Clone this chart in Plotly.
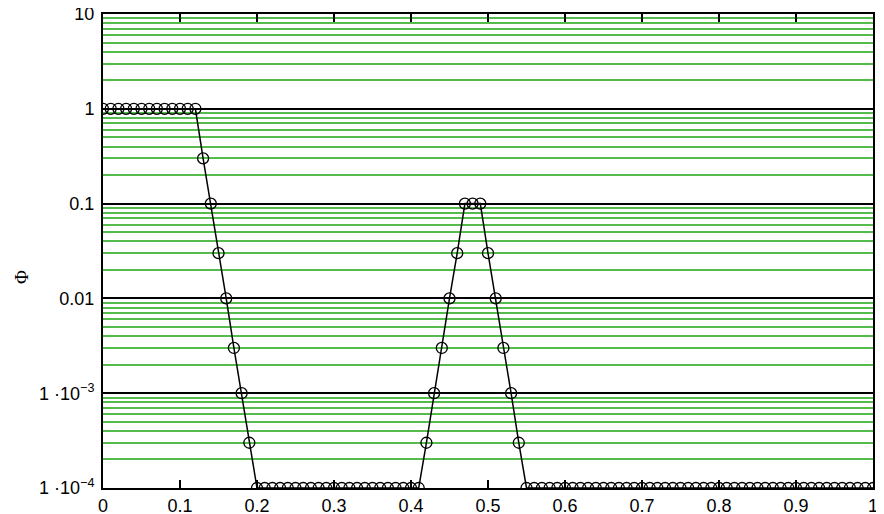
import plotly.graph_objects as go

x_vals = [round(i * 0.01, 2) for i in range(101)]

# Phi values (1e-4 is the bottom of the axis)
phi_head = [1] * 13 + [0.3, 0.1, 0.03, 0.01, 0.003, 0.001, 3e-4]          # x = 0.00 .. 0.19
phi_flat1 = [1e-4] * 22                                                    # x = 0.20 .. 0.41
phi_peak = [3e-4, 0.001, 0.003, 0.01, 0.03, 0.1, 0.1, 0.1,
            0.03, 0.01, 0.003, 0.001, 3e-4]                                # x = 0.42 .. 0.54
phi_tail = [1e-4] * 46                                                     # x = 0.55 .. 1.00
phi_vals = phi_head + phi_flat1 + phi_peak + phi_tail

y_tickvals = [1e-4, 1e-3, 0.01, 0.1, 1, 10]
y_ticktext = ["1 \u00b710<sup>\u22124</sup>", "1 \u00b710<sup>\u22123</sup>", "0.01", "0.1", "1", "10"]
x_tickvals = [0, 0.1, 0.2, 0.3, 0.4, 0.5, 0.6, 0.7, 0.8, 0.9, 1]
x_ticktext = ["0", "0.1", "0.2", "0.3", "0.4", "0.5", "0.6", "0.7", "0.8", "0.9", "1"]
y_title = "\u03a6"

fig = go.Figure()
fig.add_trace(go.Scatter(
    x=x_vals, y=phi_vals, mode="lines+markers",
    line=dict(color="black", width=1.5),
    marker=dict(symbol="circle-open", size=11, color="black", line=dict(width=1.3)),
    cliponaxis=True, showlegend=False,
))

font = dict(family="Liberation Sans, Arial, sans-serif", size=18, color="black")

# page has an 8px body margin, so the figure is sized/positioned to compensate
fig.update_layout(
    width=876, height=506,
    margin=dict(l=95, r=11, t=6, b=26),
    paper_bgcolor="white", plot_bgcolor="white",
    font=font,
    xaxis=dict(
        range=[0, 1], tickvals=x_tickvals, ticktext=x_ticktext,
        showgrid=False, zeroline=False, automargin=False,
        ticks="inside", ticklen=8, tickwidth=1.5, tickcolor="black",
        showline=True, linecolor="black", linewidth=2, mirror="allticks",
        tickfont=font, ticklabelstandoff=0, ticklabeloverflow="allow",
    ),
    yaxis=dict(
        type="log", range=[-4, 1], tickvals=y_tickvals, ticktext=y_ticktext,
        showgrid=True, gridcolor="black", gridwidth=1.5,
        zeroline=False, ticks="", automargin=False,
        showline=True, linecolor="black", linewidth=2, mirror=True,
        minor=dict(showgrid=True, dtick="D1", gridcolor="#55bb4c", gridwidth=2.2, ticks=""),
        tickfont=font, ticklabelstandoff=3, ticklabeloverflow="allow",
    ),
    annotations=[dict(
        text=y_title, xref="paper", yref="paper", x=-0.1065, y=0.445,
        xanchor="center", yanchor="middle", showarrow=False, textangle=-90,
        font=dict(family="Liberation Serif, serif", size=19, color="black"),
    )],
)

fig.write_html("out.html")
